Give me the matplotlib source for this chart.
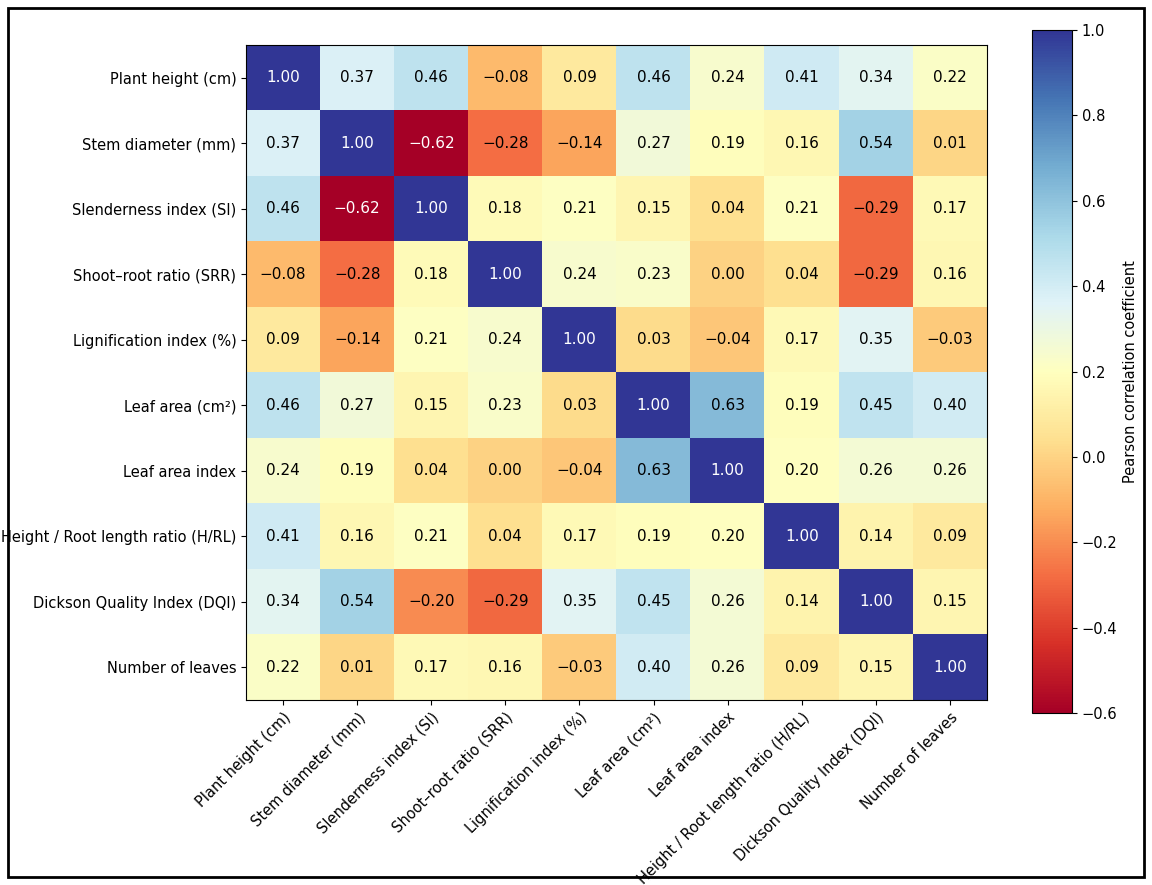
import matplotlib
matplotlib.use("Agg")
import matplotlib.pyplot as plt
import numpy as np
from matplotlib.patches import Rectangle

labels = ["Plant height (cm)", "Stem diameter (mm)", "Slenderness index (SI)",
          "Shoot\u2013root ratio (SRR)", "Lignification index (%)", "Leaf area (cm\u00b2)",
          "Leaf area index", "Height / Root length ratio (H/RL)",
          "Dickson Quality Index (DQI)", "Number of leaves"]

r_height = [1.00, 0.37, 0.46, -0.08, 0.09, 0.46, 0.24, 0.41, 0.34, 0.22]
r_stem = [0.37, 1.00, -0.62, -0.28, -0.14, 0.27, 0.19, 0.16, 0.54, 0.01]
r_si = [0.46, -0.62, 1.00, 0.18, 0.21, 0.15, 0.04, 0.21, -0.29, 0.17]
r_srr = [-0.08, -0.28, 0.18, 1.00, 0.24, 0.23, 0.00, 0.04, -0.29, 0.16]
r_lig = [0.09, -0.14, 0.21, 0.24, 1.00, 0.03, -0.04, 0.17, 0.35, -0.03]
r_la = [0.46, 0.27, 0.15, 0.23, 0.03, 1.00, 0.63, 0.19, 0.45, 0.40]
r_lai = [0.24, 0.19, 0.04, 0.00, -0.04, 0.63, 1.00, 0.20, 0.26, 0.26]
r_hrl = [0.41, 0.16, 0.21, 0.04, 0.17, 0.19, 0.20, 1.00, 0.14, 0.09]
r_dqi = [0.34, 0.54, -0.20, -0.29, 0.35, 0.45, 0.26, 0.14, 1.00, 0.15]
r_nl = [0.22, 0.01, 0.17, 0.16, -0.03, 0.40, 0.26, 0.09, 0.15, 1.00]

M = np.array([r_height, r_stem, r_si, r_srr, r_lig, r_la, r_lai, r_hrl, r_dqi, r_nl])

fig = plt.figure(figsize=(11.52, 8.85), dpi=100)
ax = fig.add_axes([246/1152, 1-700/885, 741/1152, 655/885])
im = ax.imshow(M, cmap="RdYlBu", vmin=-0.6, vmax=1.0, aspect="auto")
n = len(labels)
ax.set_xticks(range(n))
ax.set_yticks(range(n))
ax.set_xticklabels(labels, rotation=45, ha="right", rotation_mode="anchor", fontsize=10.5)
ax.set_yticklabels(labels, fontsize=10.5)
for i in range(n):
    for j in range(n):
        v = M[i, j]
        c = "white" if (v >= 0.9 or v <= -0.5) else "black"
        ax.text(j, i, f"{v:.2f}".replace("-", "\u2212"), ha="center", va="center", color=c, fontsize=11)

cax = fig.add_axes([1032/1152, 1-713/885, 40/1152, 683/885])
cb = fig.colorbar(im, cax=cax)
cb.set_label("Pearson correlation coefficient", fontsize=10.5)
cb.ax.tick_params(labelsize=10.5)

fig.patches.append(Rectangle((8/1152, 8/885), 1-16/1152, 1-16/885, transform=fig.transFigure,
                             fill=False, edgecolor="black", linewidth=2))
fig.savefig("out.png", dpi=100)
